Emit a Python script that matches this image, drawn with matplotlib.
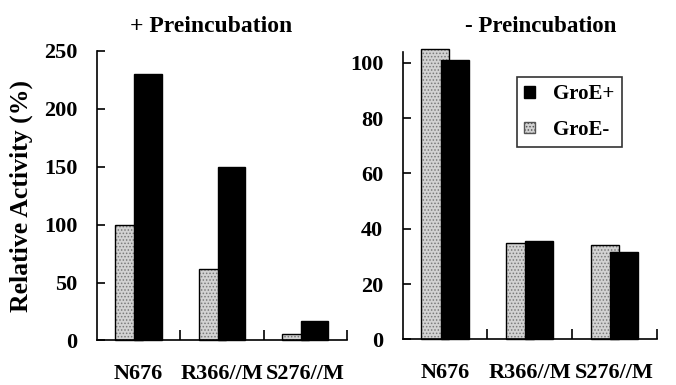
import matplotlib
matplotlib.use("Agg")
import matplotlib.pyplot as plt
from matplotlib.patches import Patch
import numpy as np

categories = ["N676", "R366//M", "S276//M"]
pre_groe_minus = [100, 62, 6]
pre_groe_plus = [230, 150, 17]
nopre_groe_minus = [105, 35, 34]
nopre_groe_plus = [101, 35.5, 31.5]
titles = ["+ Preincubation", "- Preincubation"]
ylabel = "Relative Activity (%)"
legend_labels = ["GroE+", "GroE-"]

plt.rcParams['font.family'] = ['Liberation Serif', 'DejaVu Serif']
plt.rcParams['font.weight'] = 'bold'
plt.rcParams['hatch.linewidth'] = 0.7

fig = plt.figure(figsize=(6.76, 3.85), dpi=100)
ax1 = fig.add_axes([0.1435, 0.1156, 0.3695, 0.752])
ax2 = fig.add_axes([0.5957, 0.1182, 0.3757, 0.7475])

FS = 16
w = 0.33
x = np.arange(len(categories))
gray = '#d2d2d2'

def draw(ax, minus, plus, ylim, yticks):
    ax.bar(x - 0.115, minus, w, color=gray, edgecolor='#7a7a7a', hatch='.....',
           linewidth=0, clip_on=False, zorder=2)
    ax.bar(x - 0.115, minus, w, fill=False, edgecolor='black', linewidth=1.0,
           clip_on=False, zorder=2.1)
    ax.bar(x + 0.115, plus, w, color='black', edgecolor='black', linewidth=1.0,
           clip_on=False, zorder=3)
    ax.set_xlim(-0.5, 2.5)
    ax.set_ylim(*ylim)
    ax.set_yticks(yticks)
    ax.set_xticks(x)
    ax.set_xticklabels(categories, fontsize=FS, fontweight='bold')
    ax.set_xticks([0.5, 1.5, 2.5], minor=True)
    ax.tick_params(axis='x', which='major', length=0, pad=17)
    ax.tick_params(axis='x', which='minor', direction='in', length=7, width=1.2)
    ax.tick_params(axis='y', direction='in', length=6, width=1.2, labelsize=FS, pad=14)
    for lab in ax.get_yticklabels():
        lab.set_fontweight('bold')
    for s in ['top', 'right']:
        ax.spines[s].set_visible(False)
    for s in ['left', 'bottom']:
        ax.spines[s].set_linewidth(1.2)

draw(ax1, pre_groe_minus, pre_groe_plus, (0, 250), [0, 50, 100, 150, 200, 250])
draw(ax2, nopre_groe_minus, nopre_groe_plus, (0, 104), [0, 20, 40, 60, 80, 100])

ax1.set_ylabel(ylabel, fontsize=18.5, fontweight='bold', labelpad=8)

fig.text(0.313, 0.932, titles[0], fontsize=17, fontweight='bold', ha='center', va='center')
fig.text(0.80, 0.932, titles[1], fontsize=16.5, fontweight='bold', ha='center', va='center')

handles = [Patch(facecolor='black', edgecolor='black'),
           Patch(facecolor=gray, edgecolor='#555555', hatch='.....')]
leg = ax2.legend(handles, legend_labels, loc='upper left', bbox_to_anchor=(0.45, 0.912),
                 frameon=True, fancybox=False, edgecolor='black',
                 prop={'weight': 'bold', 'size': 15}, handlelength=0.5, handleheight=0.5,
                 handletextpad=0.9, borderpad=0.35, labelspacing=0.75, borderaxespad=0)
leg.get_frame().set_linewidth(1.2)

fig.savefig("out.png", dpi=100)
